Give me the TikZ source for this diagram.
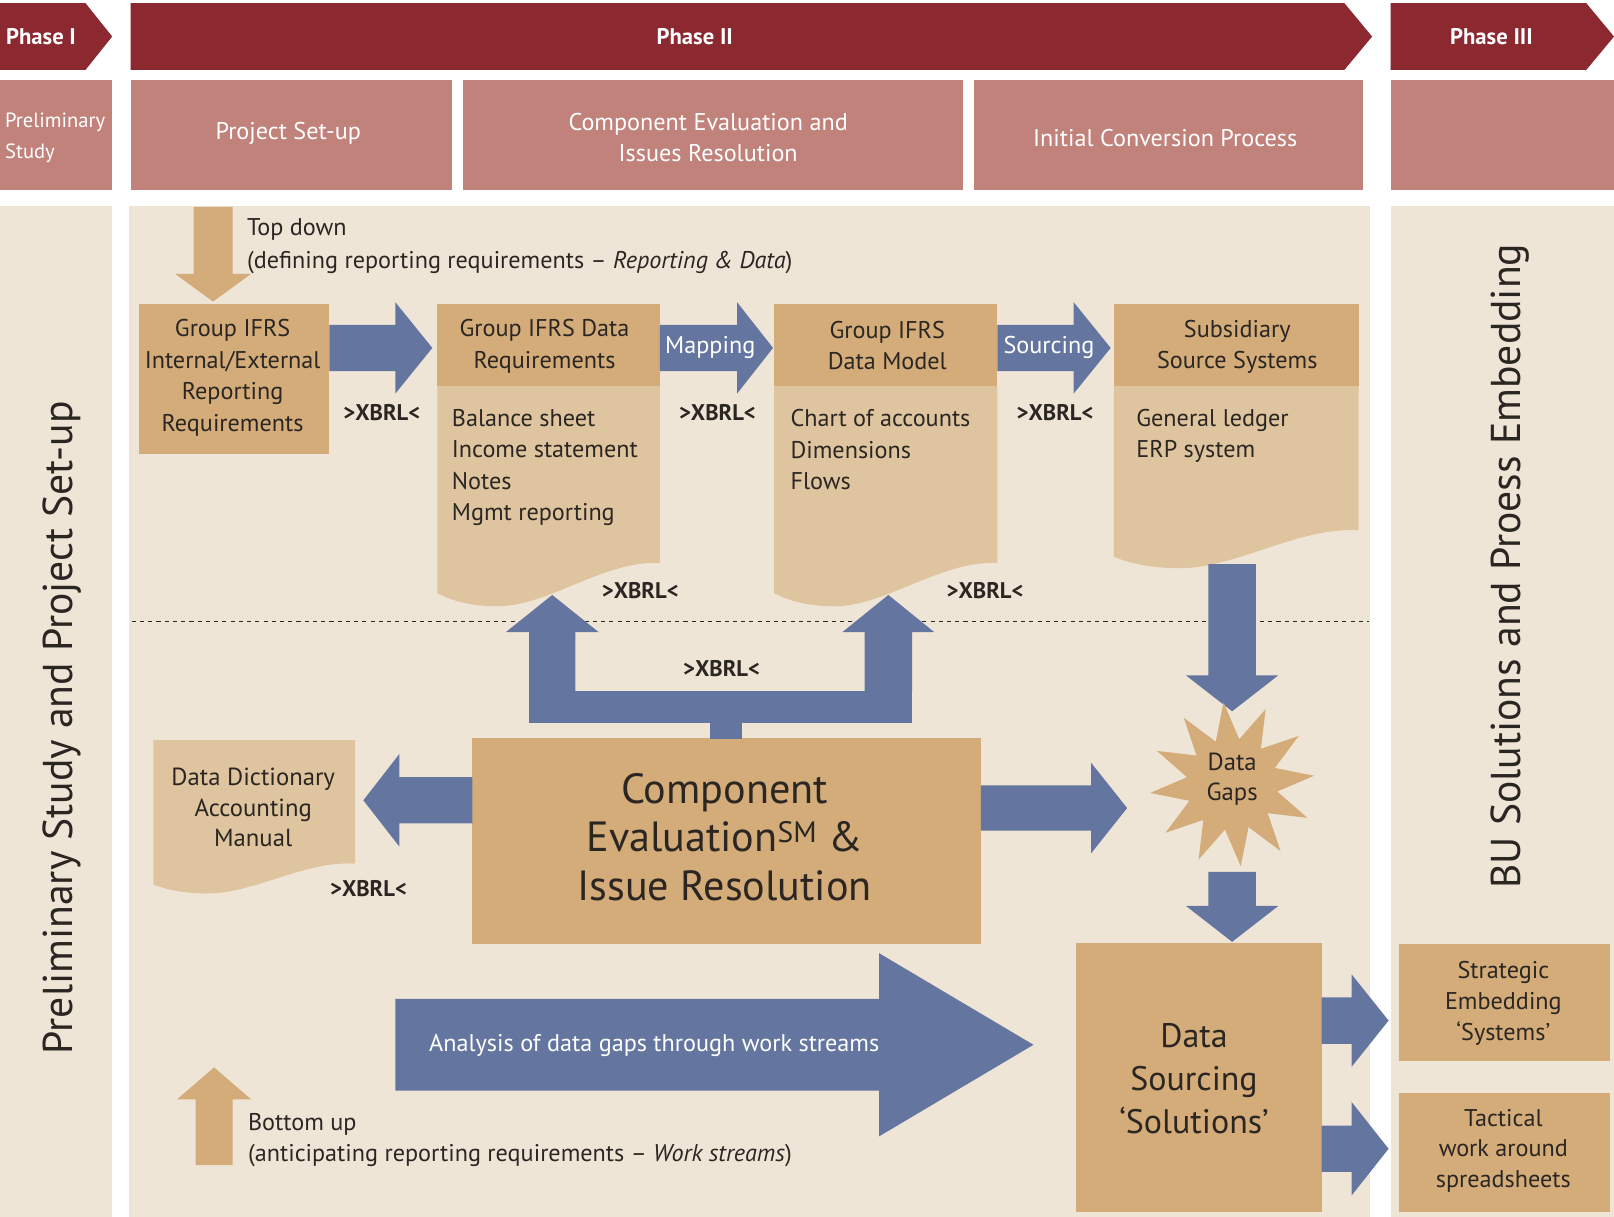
\documentclass[tikz,border=0pt]{standalone}
\usepackage{fontspec}
\setmainfont{PT Sans}
\usetikzlibrary{calc,shapes.geometric}

\definecolor{phasered}{HTML}{8B2830}
\definecolor{rose}{HTML}{C1827B}
\definecolor{panel}{HTML}{EFE5D7}
\definecolor{tan}{HTML}{D3AC7A}
\definecolor{lighttan}{HTML}{DFC59F}
\definecolor{flow}{HTML}{64769F}
\definecolor{ink}{HTML}{2B2622}

% font size helper
\newcommand{\setfs}[2]{\fontsize{#1}{#2}\selectfont}

% document shape with a wavy lower edge:
% #1 colour, #2 left x, #3 right x, #4 top y, #5 y of right edge end, #6 wave depth
\newcommand{\wavedoc}[6]{%
  \fill[#1] ({#2},{#4}) -- ({#3},{#4}) -- ({#3},{#5})
    .. controls ({#3-0.25*(#3-#2)},{#5-3}) and ({#2+0.5*(#3-#2)},{#5+#6}) .. ({#2+0.27*(#3-#2)},{#5+#6})
    .. controls ({#2+0.12*(#3-#2)},{#5+#6}) and ({#2+0.04*(#3-#2)},{#5+0.8*#6}) .. ({#2},{#5+0.7*#6}) -- cycle;}

% block arrows
% horizontal: [colour] start x, head base x, tip x, centre y, half shaft, half head
\newcommand{\flowright}[7][flow]{%
  \fill[#1] ({#2},{#5-#6}) -- ({#3},{#5-#6}) -- ({#3},{#5-#7}) -- ({#4},{#5})
    -- ({#3},{#5+#7}) -- ({#3},{#5+#6}) -- ({#2},{#5+#6}) -- cycle;}
\newcommand{\flowleft}[7][flow]{%
  \fill[#1] ({#2},{#5-#6}) -- ({#3},{#5-#6}) -- ({#3},{#5-#7}) -- ({#4},{#5})
    -- ({#3},{#5+#7}) -- ({#3},{#5+#6}) -- ({#2},{#5+#6}) -- cycle;}
% vertical: [colour] centre x, start y, head base y, tip y, half shaft, half head
\newcommand{\flowvert}[7][flow]{%
  \fill[#1] ({#2-#6},{#3}) -- ({#2-#6},{#4}) -- ({#2-#7},{#4}) -- ({#2},{#5})
    -- ({#2+#7},{#4}) -- ({#2+#6},{#4}) -- ({#2+#6},{#3}) -- cycle;}

\tikzset{
  every node/.style={inner sep=0pt, outer sep=0pt},
  phasetext/.style={text=white, font=\setfs{22}{26}\bfseries},
  stagetext/.style={text=white, font=\setfs{23.5}{30}, align=center},
  boxtext/.style={text=ink, font=\setfs{23.5}{30.7}, align=center},
  listtext/.style={text=ink, font=\setfs{23.5}{30.5}, align=left, anchor=west},
  xbrl/.style={text=ink, font=\setfs{22}{24}\bfseries},
  sidetext/.style={text=ink, font=\setfs{40.5}{44}, rotate=90},
  flowtext/.style={text=white, font=\setfs{23.5}{26}},
  tanbox/.style={fill=tan, minimum width=#1},
  dashline/.style={draw=ink, line width=1.1pt, dash pattern=on 4pt off 4pt},
}

\begin{document}
\begin{tikzpicture}[x=1pt,y=-1pt]
\fill[white] (0,0) rectangle (1568,1182);
\useasboundingbox (0,0) rectangle (1568,1182);

% ---------- phase banner ----------
\fill[phasered] (0,3) -- (83,3) -- (109,35.5) -- (83,68) -- (0,68) -- cycle;
\fill[phasered] (127,3) -- (1306,3) -- (1333,35.5) -- (1306,68) -- (127,68) -- cycle;
\fill[phasered] (1351,3) -- (1541,3) -- (1568,35.5) -- (1541,68) -- (1351,68) -- cycle;
\node[phasetext, anchor=west] (ph1) at (6,36) {Phase I};
\node[phasetext] (ph2) at (675,36) {Phase II};
\node[phasetext] (ph3) at (1449,36) {Phase III};

% ---------- stage row ----------
\fill[rose] (0,78) rectangle (109,185);
\fill[rose] (127,78) rectangle (439,185);
\fill[rose] (450,78) rectangle (936,185);
\fill[rose] (946,78) rectangle (1324,185);
\fill[rose] (1351,78) rectangle (1568,185);
\node[text=white, font=\setfs{20}{30}, align=left, anchor=west] (st0) at (5,133.5) {Preliminary\\Study};
\node[stagetext] (st1) at (280,130) {Project Set-up};
\node[stagetext] (st2) at (688,133.5) {Component Evaluation and\\Issues Resolution};
\node[stagetext] (st3) at (1132,134) {Initial Conversion Process};

% ---------- panels ----------
\fill[panel] (0,200) rectangle (109,1182);
\fill[panel] (125,200) rectangle (1331,1182);
\fill[panel] (1351,200) rectangle (1568,1182);
\node[sidetext] (leftside) at (60,707) {Preliminary Study and Project Set-up};
\node[sidetext] (rightside) at (1467,550) {BU Solutions and Proess Embedding};

% divider between top-down and bottom-up halves
\coordinate (divL) at (128,604);
\coordinate (divR) at (1330,604);
\draw[dashline] (divL) -- (divR);

% ---------- top-down chain ----------
\flowvert[tan]{207}{201}{266}{293}{19}{37}
\node[text=ink, font=\setfs{23.5}{32}, align=left, anchor=west] (topdown) at (240,239.5)
  {Top down\\(defining reporting requirements – \textit{Reporting \& Data})};

\node[tanbox=185, minimum height=146] (req) at (227.5,368) {};
\node[boxtext] (reqt) at (226,367) {Group IFRS\\Internal/External\\Reporting\\Requirements};

\node[tanbox=216, minimum height=80] (datareq) at (533,335) {};
\wavedoc{lighttan}{425}{641}{375}{547}{42}
\node[boxtext] (datareqt) at (529,336.5) {Group IFRS Data\\Requirements};
\node[listtext] (datareql) at (439,454) {Balance sheet\\Income statement\\Notes\\Mgmt reporting};

\node[tanbox=217, minimum height=80] (model) at (860.5,335) {};
\wavedoc{lighttan}{752}{969}{375}{547}{42}
\node[boxtext] (modelt) at (862,335.5) {Group IFRS\\Data Model};
\node[listtext] (modell) at (768,437) {Chart of accounts\\Dimensions\\Flows};

\node[tanbox=238, minimum height=80] (subsid) at (1201,335) {};
\wavedoc{lighttan}{1082}{1320}{375}{515}{37}
\node[boxtext] (subsidt) at (1202,337) {Subsidiary\\Source Systems};
\node[listtext] (subsidl) at (1104,423.5) {General ledger\\ERP system};

% arrows between the top boxes
\flowright{320}{384}{420}{338}{22.5}{44.5}
\flowright{641}{716}{751}{338}{22.5}{44.5}
\flowright{969}{1043}{1079}{338}{22.5}{44.5}
\node[flowtext] (mapping) at (690,338) {Mapping};
\node[flowtext] (sourcing) at (1019,338) {Sourcing};

\node[xbrl] (x1) at (371,401) {>XBRL<};
\node[xbrl] (x2) at (697,401) {>XBRL<};
\node[xbrl] (x3) at (1025,401) {>XBRL<};
\node[xbrl] (x4) at (622,574) {>XBRL<};
\node[xbrl] (x5) at (957,574) {>XBRL<};

% ---------- component evaluation ----------
\node[tanbox=494, minimum height=200] (comp) at (706,817) {};
\node[text=ink, font=\setfs{41}{47}, align=center] (compt) at (704,813)
  {Component\\Evaluation\textsuperscript{SM} \&\\Issue Resolution};

% fork feeding back into the two upper documents
\fill[flow] (690,702) rectangle (721,718);
\fill[flow] (514,671) rectangle (886,702);
\flowvert{536.5}{672}{614}{578}{22.5}{45}
\flowvert{863}{672}{614}{578}{23}{44.5}
\node[xbrl] (x6) at (701,650) {>XBRL<};

% data dictionary
\wavedoc{lighttan}{149}{345}{719}{839}{29}
\node[boxtext, font=\setfs{24}{30}] (dict) at (246,784.5) {Data Dictionary\\Accounting\\Manual};
\flowleft{459}{388}{353}{777.5}{22.5}{45}
\node[xbrl] (x7) at (358,863) {>XBRL<};

% ---------- data gaps ----------
\flowvert{1197}{548}{656}{691}{23}{45}
\node[star, star points=12, star point ratio=1.8, minimum size=160, fill=tan, rotate=6] (gapstar) at (1197,762) {};
\node[boxtext, font=\setfs{24}{30}] (gaps) at (1197,757) {Data\\Gaps};
\flowright{953}{1060}{1095}{785}{22}{44}

\flowvert{1197}{847}{880}{915}{23}{45}

% ---------- data sourcing ----------
\node[tanbox=239, minimum height=261] (sourcingbox) at (1164.5,1046.5) {};
\node[text=ink, font=\setfs{33}{41.5}, align=center] (sourcingt) at (1160,1048)
  {Data\\Sourcing\\‘Solutions’};

\node[tanbox=205, minimum height=114] (strategic) at (1461.5,974) {};
\node[boxtext, font=\setfs{23.5}{30}] (strategict) at (1460.5,975) {Strategic\\Embedding\\‘Systems’};
\node[tanbox=205, minimum height=115] (tactical) at (1461.5,1119.5) {};
\node[boxtext, font=\setfs{23.5}{30}] (tacticalt) at (1460.5,1118) {Tactical\\work around\\spreadsheets};

\flowright{1284}{1313}{1349}{991.5}{22.5}{45}
\flowright{1284}{1313}{1349}{1116}{22.5}{45.5}

% ---------- bottom-up analysis ----------
\flowright{384}{854}{1004}{1015}{44.5}{89}
\node[flowtext, anchor=west] (analysis) at (417,1016) {Analysis of data gaps through work streams};

\flowvert[tan]{208}{1132}{1068}{1037}{18}{36}
\node[text=ink, font=\setfs{23.5}{30}, align=left, anchor=west] (bottomup) at (241,1107.5)
  {Bottom up\\(anticipating reporting requirements – \textit{Work streams})};

\end{tikzpicture}
\end{document}
